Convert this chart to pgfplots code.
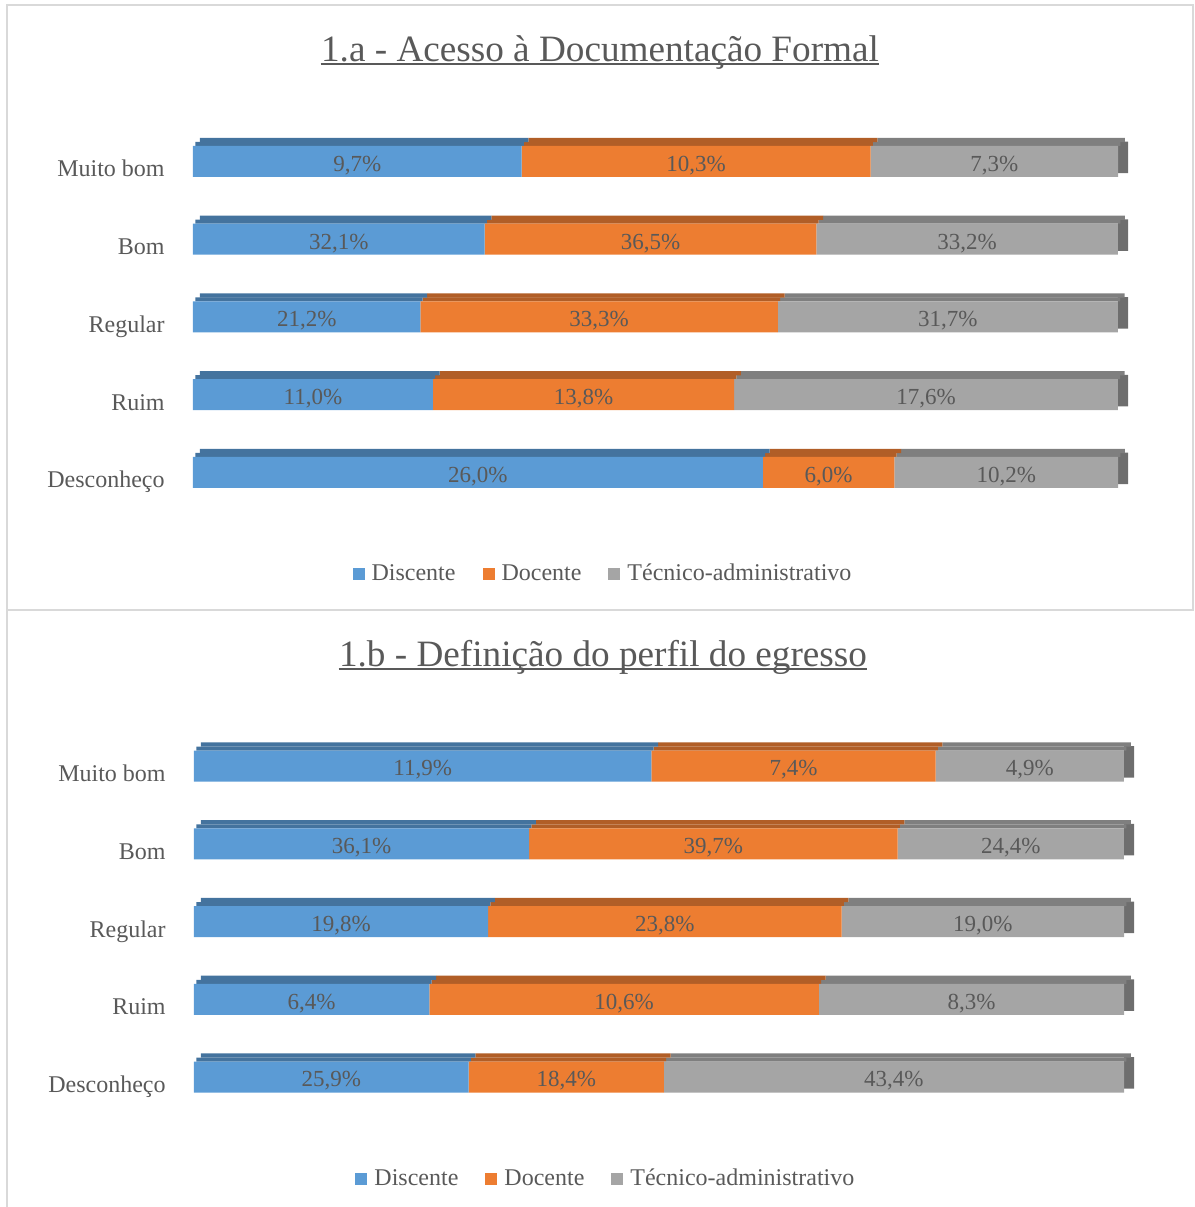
\documentclass[border=0pt]{standalone}
\usepackage{pgfplots}
\usepackage{pgfplotstable}
\pgfplotsset{compat=1.18}
\usepackage{fontspec}
\setmainfont{Liberation Serif}

\definecolor{Dis}{HTML}{5B9BD5}
\definecolor{Doc}{HTML}{ED7D31}
\definecolor{Tec}{HTML}{A5A5A5}
\definecolor{DisTop}{HTML}{44739E}
\definecolor{DocTop}{HTML}{B15E27}
\definecolor{TecTop}{HTML}{7F7F7F}
\definecolor{TecSide}{HTML}{6E6E6E}
\definecolor{TextGray}{HTML}{595959}
\definecolor{FrameGray}{HTML}{D9D9D9}

% rows from bottom (Desconheço) to top (Muito bom)
\pgfplotstableread{
dis doc tec
26.0 6.0 10.2
11.0 13.8 17.6
21.2 33.3 31.7
32.1 36.5 33.2
9.7 10.3 7.3
}\tabA

\pgfplotstableread{
dis doc tec
25.9 18.4 43.4
6.4 10.6 8.3
19.8 23.8 19.0
36.1 39.7 24.4
11.9 7.4 4.9
}\tabB

\pgfplotsset{
  base/.style={
    scale only axis, height=194.375pt,
    xmin=0, xmax=100, ymin=-0.5, ymax=4.5,
    xbar stacked, bar width=15.5pt, clip=false,
    anchor=south west,
    axis x line=none,
  },
  shade/.style={base, axis y line=none},
  front/.style={base,
    axis y line*=left, y axis line style={draw=none},
    ytick={0,1,2,3,4},
    yticklabels={Desconheço,Ruim,Regular,Bom,Muito bom},
    major tick length=0pt,
    yticklabel style={font=\fontsize{12}{14}\selectfont, text=TextGray,
      anchor=base east, inner sep=0pt, xshift=-14pt, yshift=-7.75pt},
    point meta=explicit,
    nodes near coords={\pgfmathprintnumber[fixed,fixed zerofill,precision=1,use comma,assume math mode=true]{\pgfplotspointmeta}\%},
    every node near coord/.append style={font=\fontsize{11.5}{13}\selectfont, text=TextGray, yshift=-2pt},
    legend columns=3,
    legend style={draw=none, fill=none, anchor=center,
      font=\fontsize{12}{14}\selectfont, text=TextGray,
      /tikz/every odd column/.append style={column sep=1.5pt},
      /tikz/every even column/.append style={column sep=11.5pt}},
    legend image code/.code={\fill[#1] (0pt,-3pt) rectangle (6pt,3pt);},
  },
  /pgfplots/table/nx/.style={
    /pgfplots/table/x expr={100*\thisrow{#1}/(\thisrow{dis}+\thisrow{doc}+\thisrow{tec})},
    /pgfplots/table/y expr=\coordindex,
    /pgfplots/table/meta=#1},
  % top face of the 3D bars, drawn as two thin strips to follow the slant
  topA/.style={bar width=2pt, bar shift=8.75pt, xshift=1.125pt, draw=none},
  topB/.style={bar width=2.1pt, bar shift=10.75pt, xshift=3.375pt, draw=none},
}

\begin{document}
\begin{tikzpicture}
\useasboundingbox (0,0) rectangle (597.5pt,603.5pt);
\draw[FrameGray, line width=1pt] (3.5pt,298.5pt) rectangle (596.5pt,601pt);
\draw[FrameGray, line width=1pt] (3.5pt,298.5pt) -- (3.5pt,0pt);

% 1.a
\node[anchor=base, inner sep=0pt, text=TextGray, font=\fontsize{18.6}{22}\selectfont] (t1) at (300pt,572.5pt) {1.a - Acesso à Documentação Formal};
\draw[TextGray, line width=1pt] ([yshift=-1pt]t1.base west) -- ([yshift=-1pt]t1.base east);

\begin{axis}[shade, at={(96.5pt,347.8125pt)}, width=462.5pt]
\addplot[fill=DisTop, topA] table[nx=dis]{\tabA};
\addplot[fill=DocTop, topA] table[nx=doc]{\tabA};
\addplot[fill=TecTop, topA] table[nx=tec]{\tabA};
\addplot[fill=TecSide, draw=none, bar width=15.75pt, bar shift=2.1pt] coordinates {(1.1,0) (1.1,1) (1.1,2) (1.1,3) (1.1,4)};
\end{axis}
\begin{axis}[shade, at={(96.5pt,347.8125pt)}, width=462.5pt]
\addplot[fill=DisTop, topB] table[nx=dis]{\tabA};
\addplot[fill=DocTop, topB] table[nx=doc]{\tabA};
\addplot[fill=TecTop, topB] table[nx=tec]{\tabA};
\end{axis}
\begin{axis}[front, at={(96.5pt,347.8125pt)}, width=462.5pt,
  legend style={at={(0.4443,-0.1611)}}]
\addplot[fill=Dis, draw=none] table[nx=dis]{\tabA};
\addplot[fill=Doc, draw=none] table[nx=doc]{\tabA};
\addplot[fill=Tec, draw=none] table[nx=tec]{\tabA};
\legend{Discente,Docente,Técnico-administrativo}
\end{axis}

% 1.b
\node[anchor=base, inner sep=0pt, text=TextGray, font=\fontsize{18.6}{22}\selectfont] (t2) at (301.5pt,270pt) {1.b - Definição do perfil do egresso};
\draw[TextGray, line width=1pt] ([yshift=-1pt]t2.base west) -- ([yshift=-1pt]t2.base east);

\begin{axis}[shade, at={(97pt,45.5625pt)}, width=465pt]
\addplot[fill=DisTop, topA] table[nx=dis]{\tabB};
\addplot[fill=DocTop, topA] table[nx=doc]{\tabB};
\addplot[fill=TecTop, topA] table[nx=tec]{\tabB};
\addplot[fill=TecSide, draw=none, bar width=15.75pt, bar shift=2.1pt] coordinates {(1.1,0) (1.1,1) (1.1,2) (1.1,3) (1.1,4)};
\end{axis}
\begin{axis}[shade, at={(97pt,45.5625pt)}, width=465pt]
\addplot[fill=DisTop, topB] table[nx=dis]{\tabB};
\addplot[fill=DocTop, topB] table[nx=doc]{\tabB};
\addplot[fill=TecTop, topB] table[nx=tec]{\tabB};
\end{axis}
\begin{axis}[front, at={(97pt,45.5625pt)}, width=465pt,
  legend style={at={(0.444,-0.1624)}}]
\addplot[fill=Dis, draw=none] table[nx=dis]{\tabB};
\addplot[fill=Doc, draw=none] table[nx=doc]{\tabB};
\addplot[fill=Tec, draw=none] table[nx=tec]{\tabB};
\legend{Discente,Docente,Técnico-administrativo}
\end{axis}
\end{tikzpicture}
\end{document}
